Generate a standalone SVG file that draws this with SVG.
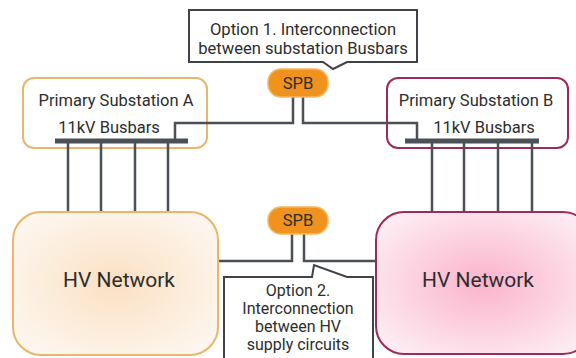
<svg xmlns="http://www.w3.org/2000/svg" width="576" height="358" viewBox="0 0 576 358">
<defs>
<radialGradient id="gA" cx="50%" cy="50%" r="60%">
<stop offset="0" stop-color="#fbe0c2"/><stop offset="1" stop-color="#fdf6ee"/>
</radialGradient>
<radialGradient id="gB" cx="50%" cy="50%" r="60%">
<stop offset="0" stop-color="#fbb3cb"/><stop offset="1" stop-color="#fdebf1"/>
</radialGradient>
<style>
text{font-family:Roboto,"Liberation Sans",sans-serif;fill:#2d2d2d;text-anchor:middle}
.t{font-size:16.5px}
.c{font-size:16.6px}
.o{font-size:16px}
.big{font-size:21px}
.w{fill:none;stroke:#4b5056;stroke-width:2.5}
.bus{stroke:#4b5056;stroke-width:5}
.spb{fill:#f0921e;stroke:#f6b860;stroke-width:1.5}
.call{fill:#fff;stroke:#3f4247;stroke-width:2}
</style>
</defs>
<g id="substationA">
<rect x="23" y="78" width="184" height="70" rx="11" fill="#fff" stroke="#e9b66d" stroke-width="2"/>
<text class="t" x="116" y="106">Primary Substation A</text>
<text class="t" x="109" y="133">11kV Busbars</text>
</g>
<g id="substationB">
<rect x="387" y="78" width="181" height="70" rx="11" fill="#fff" stroke="#9c2b5c" stroke-width="2"/>
<text class="t" x="476" y="106">Primary Substation B</text>
<text class="t" x="484" y="133">11kV Busbars</text>
</g>
<g id="connectors">
<polyline class="w" points="293,97 293,123 175,123 175,140"/>
<polyline class="w" points="303,97 303,123 417,123 417,140"/>
<line class="bus" x1="55" y1="141" x2="188" y2="141"/>
<line class="bus" x1="405" y1="141" x2="539" y2="141"/>
<path class="w" d="M68,141V213M101,141V213M135,141V213M168,141V213"/>
<path class="w" d="M432,141V213M464,141V213M498,141V213M532,141V213"/>
<polyline class="w" points="292,234 292,261 218,261"/>
<polyline class="w" points="304,234 304,261 376,261"/>
</g>
<g id="hvA">
<rect x="13" y="212" width="205" height="143" rx="28" fill="url(#gA)" stroke="#e9b66d" stroke-width="2"/>
<text class="big" x="119" y="287">HV Network</text>
</g>
<g id="hvB">
<rect x="376" y="212" width="215" height="142" rx="28" fill="url(#gB)" stroke="#9c2b5c" stroke-width="2"/>
<text class="big" x="478" y="287">HV Network</text>
</g>
<g id="spb1">
<rect class="spb" x="268" y="69" width="60" height="28" rx="13"/>
<text class="c" x="298" y="89">SPB</text>
</g>
<g id="spb2">
<rect class="spb" x="268" y="207" width="60" height="27" rx="13"/>
<text class="c" x="298" y="226">SPB</text>
</g>
<g id="option1">
<path class="call" d="M189,10H417V62H347L333,69L323,62H189Z"/>
<text class="c" x="303" y="35">Option 1. Interconnection</text>
<text class="c" x="303" y="54">between substation Busbars</text>
</g>
<g id="option2">
<path class="call" d="M224,362V277H312L314,265L347,277H373V362"/>
<text class="o" x="298" y="296">Option 2.</text>
<text class="o" x="298" y="314">Interconnection</text>
<text class="o" x="298" y="332">between HV</text>
<text class="o" x="298" y="350">supply circuits</text>
</g>
</svg>
